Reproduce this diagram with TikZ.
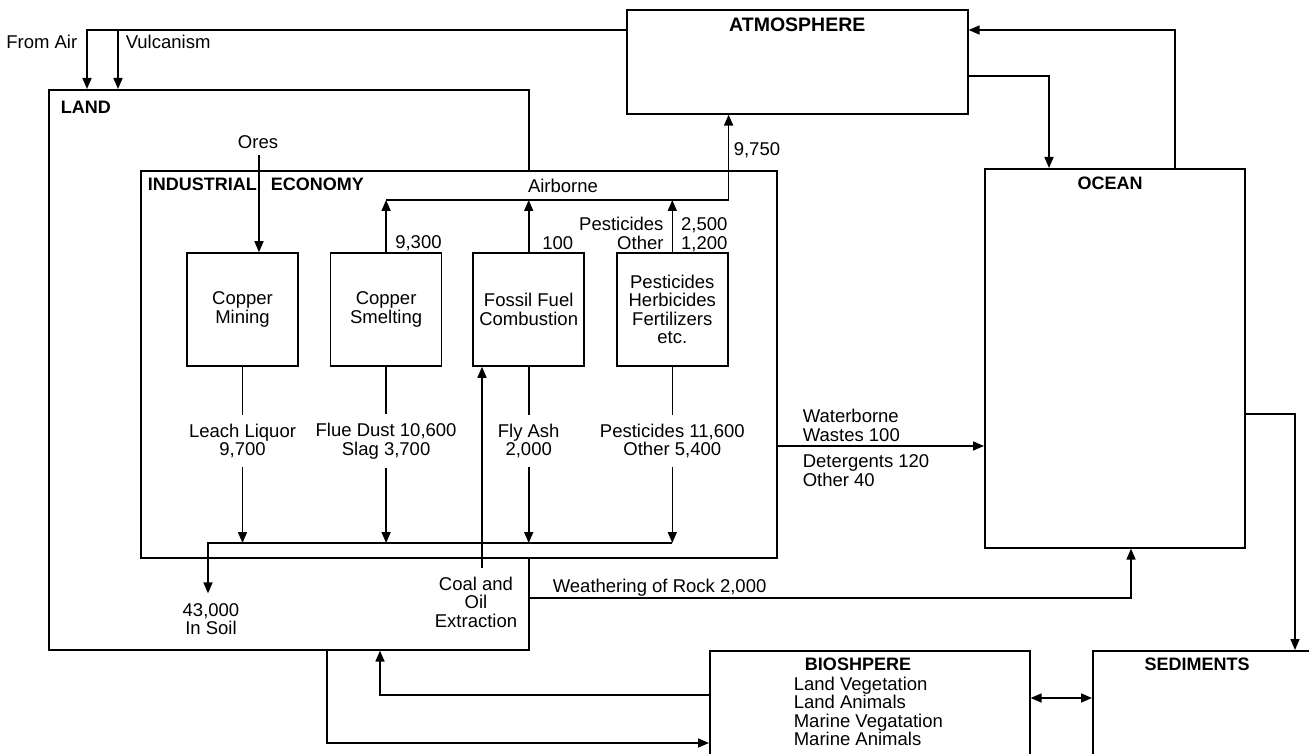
\documentclass[tikz,border=0pt]{standalone}
\usepackage{fontspec}
\setmainfont{Liberation Sans}
\usetikzlibrary{positioning,arrows.meta}
\tikzset{
  >={Triangle[length=11pt,width=9pt]},
  bigbox/.style={draw, fill=white, anchor=north west, inner sep=0pt},
  process/.style={draw, fill=white, minimum width=111pt, minimum height=113pt, inner sep=0pt, align=center, font=\fontsize{18.5}{18.5}\selectfont},
  heading/.style={inner sep=0pt, font=\bfseries\fontsize{18}{19}\selectfont},
  txt/.style={inner sep=0pt, align=center, font=\fontsize{18.5}{18.5}\selectfont},
  flow/.style={txt, inner ysep=8pt},
}

\begin{document}
\begin{tikzpicture}[x=1pt, y=-1pt, node distance=31pt, line width=1.6pt]
    \useasboundingbox (0,0) rectangle (1309,754);
    \clip (0,0) rectangle (1309,754);

    \node[bigbox, minimum width=341pt, minimum height=104pt] (atm)   at (626,9)    {};
    \node[bigbox, minimum width=480pt, minimum height=560pt] (land)  at (48,89)    {};
    \node[bigbox, minimum width=636pt, minimum height=387pt] (ie)    at (140,170)  {};
    \node[bigbox, minimum width=260pt, minimum height=379pt] (ocean) at (984,168)  {};
    \node[bigbox, minimum width=320pt, minimum height=150pt] (bio)   at (709,650)  {};
    \node[bigbox, minimum width=300pt, minimum height=150pt] (sed)   at (1092,650) {};

    \node[heading, font=\bfseries\fontsize{19.5}{20}\selectfont] (atmlbl) at ([yshift=-16pt]atm.north) {ATMOSPHERE};
    \node[heading, anchor=west] (landlbl) at (60,107) {LAND};
    \node[heading, anchor=west] (ielbl) at (147,184) {INDUSTRIAL\hskip14pt ECONOMY};
    \node[heading] (oceanlbl) at (1110,183) {OCEAN};
    \node[heading] (biolbl) at (858,664) {BIOSHPERE};
    \node[heading] (sedlbl) at (1197,664) {SEDIMENTS};

    \node[process] (mine) at (242.5,309.5) {Copper\\Mining};
    \node[process, right=of mine] (smelt) {Copper\\Smelting};
    \node[process, right=30pt of smelt] (fossil) {Fossil Fuel\\Combustion};
    \node[process, right=of fossil] (agro) {Pesticides\\Herbicides\\Fertilizers\\etc.};

    \node[flow] (leach)  at (mine.south |- 0,441)   {Leach Liquor\\9,700};
    \node[flow] (flue)   at (smelt.south |- 0,441)  {Flue Dust 10,600\\Slag 3,700};
    \node[flow] (flyash) at (fossil.south |- 0,441) {Fly Ash\\2,000};
    \node[flow] (spill)  at (agro.south |- 0,441)   {Pesticides 11,600\\Other 5,400};
    \node[txt] (soil) at (211,619) {43,000\\In Soil};
    \node[txt] (coal) at (476,602) {Coal and\\Oil\\Extraction};
    \node[txt] (ores) at (258,142) {Ores};
    \node[txt] (airlbl) at (563,186) {Airborne};
    \node[txt, anchor=west] (atmflux) at (733,150) {9,750};
    \node[txt, anchor=base east] (smeltair) at ([yshift=4pt]smelt.north east) {9,300};
    \node[txt, anchor=base east] (fossilair) at ([xshift=-11pt,yshift=3pt]fossil.north east) {100};
    \node[txt, align=right, anchor=south east] (agroair) at ([xshift=-8pt,yshift=2pt]agro.north) {Pesticides\\Other};
    \node[txt, align=left, anchor=south west] (agroval) at ([xshift=8pt]agro.north) {2,500\\1,200};
    \node[txt, anchor=east] (fromair) at (78,42) {From Air};
    \node[txt, anchor=west] (vulclbl) at (125,42) {Vulcanism};
    \node[txt, align=left, anchor=south west] (wbtop) at (802,442) {Waterborne\\Wastes 100};
    \node[txt, align=left, anchor=north west] (wbbot) at (802,454) {Detergents 120\\Other 40};
    \node[txt, anchor=base west] (rock) at (552,592) {Weathering of Rock 2,000};
    \node[txt, align=left, anchor=north west] (biolist) at (793,676) {Land Vegetation\\Land Animals\\Marine Vegatation\\Marine Animals};

    \coordinate (airfall) at ([yshift=-21pt]atm.north west);
    \coordinate (vulcan) at ([xshift=70pt]land.north west);
    \coordinate (coaltop) at ([xshift=6pt,yshift=8pt]coal.north);

    \draw[->] (airfall) -| ([xshift=39pt]land.north west);
    \draw[->] (vulcan |- airfall) -- (vulcan);
    \draw[->, shorten <=6pt] ([xshift=1pt]ores.south) -- ([xshift=1pt]ores.south |- mine.north);

    \draw[->] (smelt.north) -- (smelt.north |- 0,200);
    \draw[->] (fossil.north) -- (fossil.north |- 0,200);
    \draw[->] (agro.north) -- (agro.north |- 0,200);
    \draw[->] (smelt.north |- 0,200) -- (agro.north east |- 0,200) -- (agro.north east |- atm.south);

    \draw (mine.south) -- (leach.north);
    \draw (smelt.south) -- (flue.north);
    \draw (fossil.south) -- (flyash.north);
    \draw (agro.south) -- (spill.north);
    \draw[->] (leach.south) -- (leach.south |- 0,543);
    \draw[->] (flue.south) -- (flue.south |- 0,543);
    \draw[->] (flyash.south) -- (flyash.south |- 0,543);
    \draw[->] (spill.south) -- (spill.south |- 0,543);
    \draw[->] (agro.south |- 0,543) -| ([xshift=-3pt,yshift=9pt]soil.north);
    \draw[->] (coaltop) -- (coaltop |- fossil.south);

    \draw[->] (atm.east |- 0,76) -| (ocean.north -| 1049,0);
    \draw[->] (ocean.north -| 1175,0) |- (atm.east |- 0,30);
    \draw[->] (ocean.east |- 0,414) -| (sed.north -| 1295,0);
    \draw[->] (ie.east |- 0,446) -- (ocean.west |- 0,446);
    \draw[->] (land.east |- 0,598) -| (ocean.south -| 1131,0);

    \draw[->] (bio.west |- 0,695) -| (land.south -| 380,0);
    \draw[->] (land.south -| 327,0) |- (bio.west |- 0,743);
    \draw[<->] (bio.east |- 0,698) -- (sed.west |- 0,698);
\end{tikzpicture}
\end{document}
